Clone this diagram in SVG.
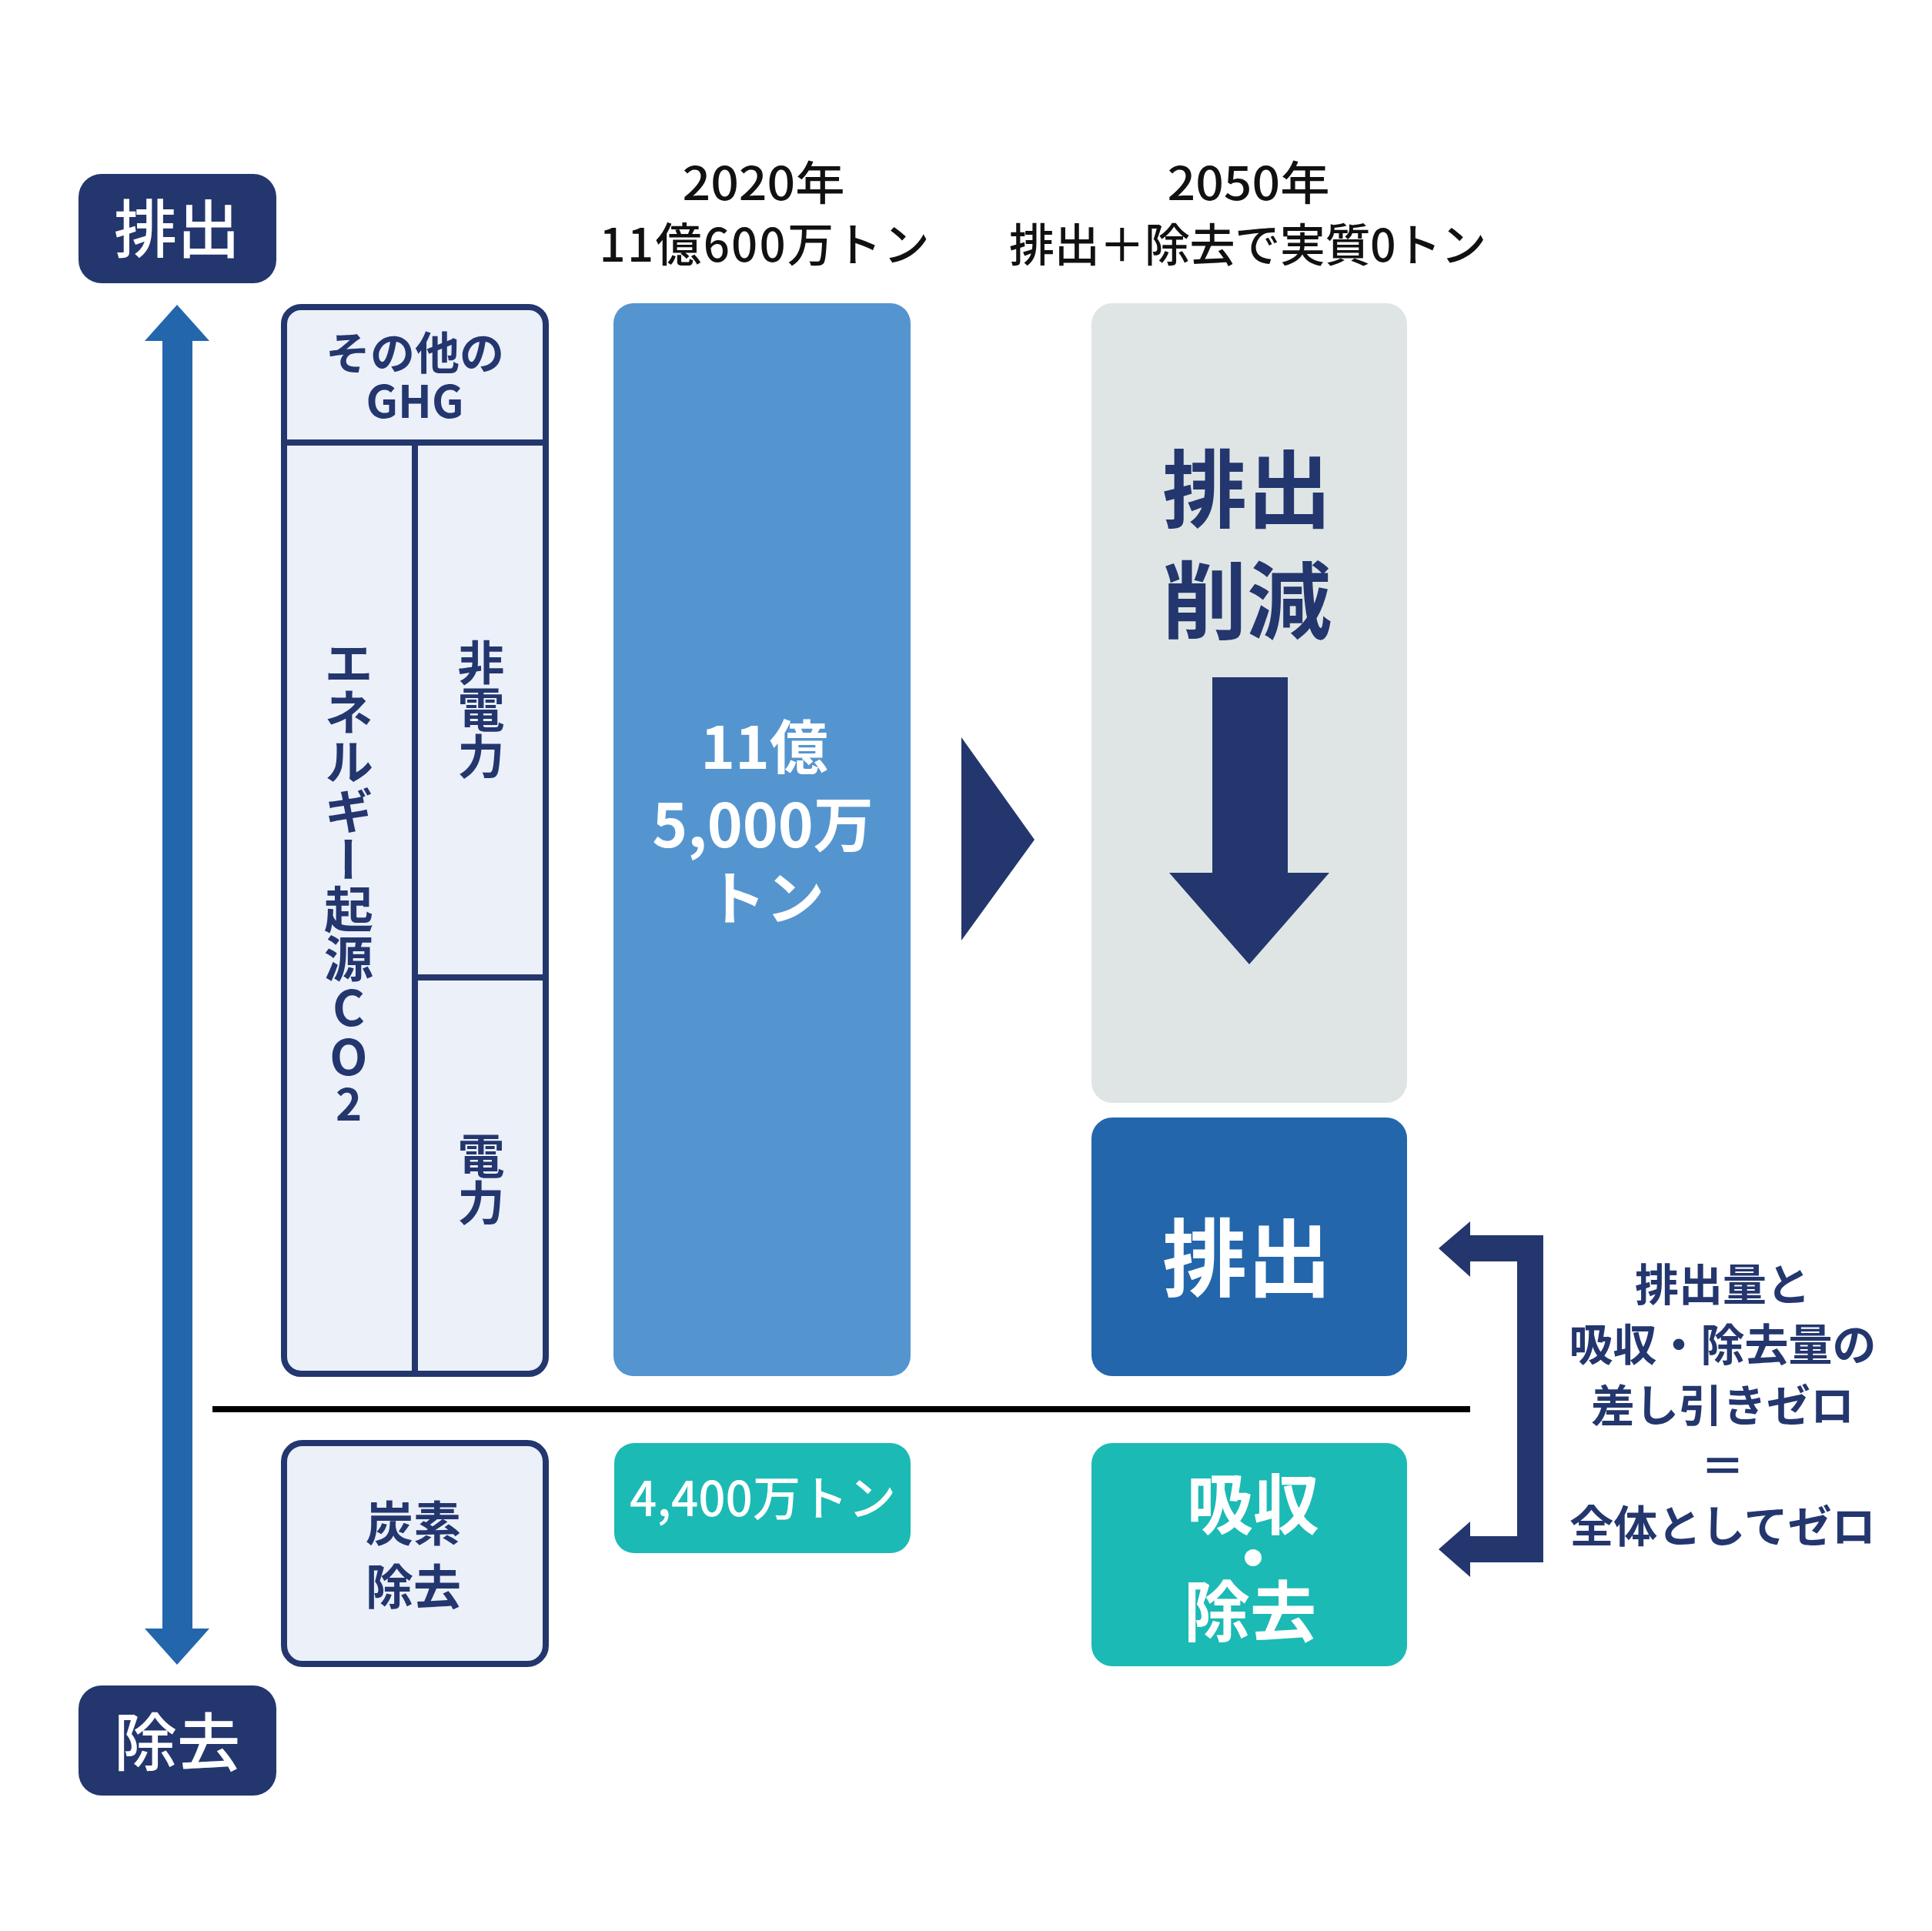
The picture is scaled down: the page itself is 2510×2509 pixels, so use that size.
<svg xmlns="http://www.w3.org/2000/svg" width="2510" height="2509" viewBox="0 0 2510 2509">
<style>
text{font-family:'Noto Sans CJK JP','Noto Sans CJK SC',sans-serif;text-anchor:middle}
.navy{fill:#24366E}
.w{fill:#ffffff}
.b{font-weight:700}
.m{font-weight:500}
.vt{writing-mode:vertical-rl;text-orientation:upright}
.cell{fill:#EBF0F9;stroke:#24366E;stroke-width:8}
</style>
<rect width="2510" height="2509" fill="#ffffff"/>

<g id="axis">
<polygon points="230,396 272,443 250,443 250,2116 272,2116 230,2163 188,2116 211,2116 211,443 188,443" fill="#2366AC"/>
<g id="label-emission">
<rect x="102" y="226" width="257" height="142" rx="30" class="navy"/>
<text x="230" y="328" font-size="82" class="w m">排出</text>
</g>
<g id="label-removal">
<rect x="102" y="2190" width="257" height="143" rx="30" class="navy"/>
<text x="230" y="2294" font-size="82" class="w m">除去</text>
</g>
</g>

<g id="titles">
<text x="992" y="260" font-size="60" class="m" fill="#111" textLength="211" lengthAdjust="spacingAndGlyphs">2020年</text>
<text x="993" y="340" font-size="60" class="m" fill="#111" textLength="429">11億600万トン</text>
<text x="1622" y="260" font-size="60" class="m" fill="#111" textLength="211" lengthAdjust="spacingAndGlyphs">2050年</text>
<text x="1621" y="340" font-size="59" class="m" fill="#111" textLength="620">排出＋除去で実質0トン</text>
</g>

<g id="breakdown">
<rect x="369" y="399" width="340" height="1386" rx="22" class="cell"/>
<line x1="369" y1="575" x2="709" y2="575" stroke="#24366E" stroke-width="8"/>
<line x1="539" y1="575" x2="539" y2="1785" stroke="#24366E" stroke-width="8"/>
<line x1="539" y1="1270" x2="709" y2="1270" stroke="#24366E" stroke-width="8"/>
<text x="539" y="480" font-size="58" class="navy b">その他の</text>
<text x="539" y="543" font-size="58" class="navy b">GHG</text>
<text x="453" y="1146" font-size="64" class="navy b vt">エネルギー起源CO<tspan font-size="58">2</tspan></text>
<text x="625" y="922" font-size="61" class="navy b vt">非電力</text>
<text x="625" y="1532" font-size="61" class="navy b vt">電力</text>
</g>

<g id="carbon-removal">
<rect x="369" y="1875" width="340" height="287" rx="24" class="cell"/>
<text x="537" y="2003" font-size="62" class="navy b">炭素</text>
<text x="537" y="2085" font-size="62" class="navy b">除去</text>
</g>

<g id="bar-2020">
<rect x="797" y="394" width="386" height="1394" rx="26" fill="#5595CF"/>
<text x="993" y="999" font-size="76" class="w b">11億</text>
<text x="991" y="1101" font-size="78" class="w b">5,000万</text>
<text x="995" y="1195" font-size="76" class="w b">トン</text>
</g>

<g id="removal-2020">
<rect x="798" y="1875" width="385" height="143" rx="26" fill="#1BBAB5"/>
<text x="991" y="1970" font-size="62" class="w m">4,400万トン</text>
</g>

<g id="connectors">
<polygon points="1249,958 1344,1091 1249,1222" class="navy"/>
<line x1="276" y1="1831" x2="1910" y2="1831" stroke="#000" stroke-width="8"/>
<polygon points="1869,1622 1910,1587 1910,1605 2005,1605 2005,2030 1910,2030 1910,2049 1869,2013 1910,1977 1910,1996 1971,1996 1971,1639 1910,1639 1910,1659" class="navy"/>
</g>

<g id="reduction-2050">
<rect x="1418" y="394" width="410" height="1039" rx="27" fill="#DEE5E4"/>
<text x="1620" y="677" font-size="110" class="navy b">排出</text>
<text x="1620" y="822" font-size="110" class="navy b">削減</text>
<polygon points="1575,880 1673,880 1673,1134 1727,1134 1623,1253 1519,1134 1575,1134" class="navy"/>
</g>

<g id="emission-2050">
<rect x="1418" y="1452" width="410" height="336" rx="27" fill="#2366AC"/>
<text x="1620" y="1676" font-size="110" class="w b">排出</text>
</g>

<g id="absorption-2050">
<rect x="1418" y="1875" width="410" height="290" rx="27" fill="#1BBAB5"/>
<text x="1628" y="1987" font-size="86" class="w b">吸収</text>
<text x="1628" y="2057" font-size="86" class="w b">・</text>
<text x="1624" y="2126" font-size="86" class="w b">除去</text>
</g>

<g id="note">
<text x="2238" y="1690" font-size="57" class="navy b">排出量と</text>
<text x="2238" y="1768" font-size="57" class="navy b">吸収・除去量の</text>
<text x="2238" y="1847" font-size="57" class="navy b">差し引きゼロ</text>
<text x="2238" y="1926" font-size="57" class="navy b">＝</text>
<text x="2238" y="2004" font-size="57" class="navy b">全体としてゼロ</text>
</g>
</svg>
